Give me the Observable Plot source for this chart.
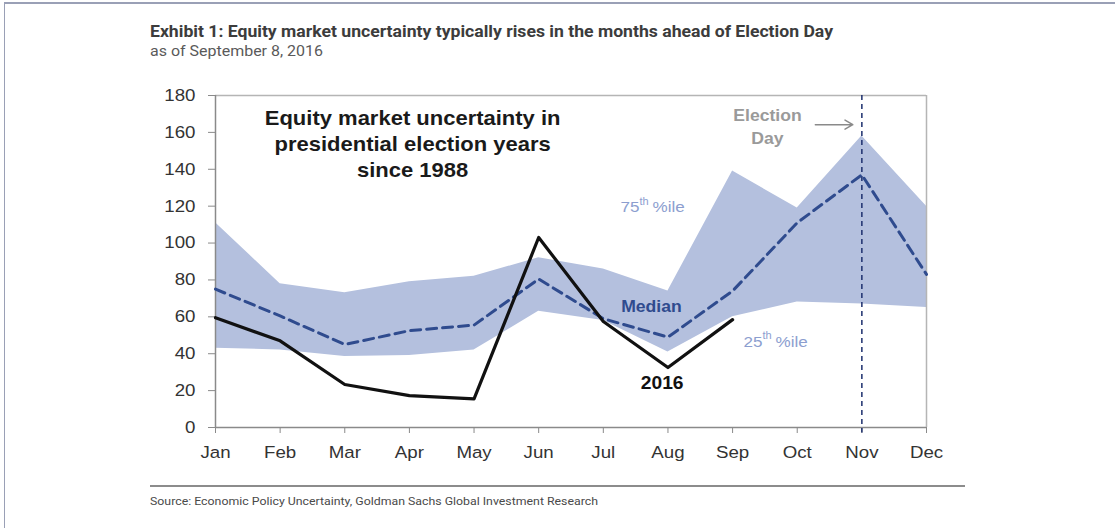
<!DOCTYPE html>
<html><head><meta charset="utf-8">
<script src="https://cdn.jsdelivr.net/npm/d3@7"></script>
<script src="https://cdn.jsdelivr.net/npm/@observablehq/plot@0.6"></script>
<style>
body{margin:0;background:#fff;width:1115px;height:528px;overflow:hidden;position:relative;font-family:"Liberation Sans",Arial,sans-serif}
#frame{position:absolute;left:4px;top:2px;right:0;bottom:0;border-top:2px solid #9aa0b6;border-left:1.5px solid #9aa0b6;pointer-events:none}
.fit{position:absolute;left:150px;white-space:nowrap;transform-origin:0 0;line-height:1;font-family:Roboto,"Liberation Sans Narrow","DejaVu Sans Condensed",sans-serif}
#title{top:23px;font-weight:bold;font-size:17px;color:#3c3c3c}
#subtitle{top:44px;font-size:14px;color:#5a5a5a}
#chart{position:absolute;left:0;top:60px}
#rule{position:absolute;left:150px;top:485px;width:815px;height:2px;background:#8c8c8c}
#source{top:495.5px;font-size:11.5px;color:#4a4a4a}
</style></head>
<body>
<div id="frame"></div>
<div id="title" class="fit" data-w="683">Exhibit 1: Equity market uncertainty typically rises in the months ahead of Election Day</div>
<div id="subtitle" class="fit" data-w="173">as of September 8, 2016</div>
<div id="chart"></div>
<div id="rule"></div>
<div id="source" class="fit" data-w="448">Source: Economic Policy Uncertainty, Goldman Sachs Global Investment Research</div>
<script>
const months = ["Jan","Feb","Mar","Apr","May","Jun","Jul","Aug","Sep","Oct","Nov","Dec"];
const p75    = [111, 78, 73, 79, 82, 92, 86, 74, 139, 119, 158, 120];
const p25    = [43, 42, 38.5, 39, 42, 63, 58, 41, 60, 68, 67, 65];
const median = [75, 60.5, 45, 52.5, 55.5, 80.5, 59, 49, 74, 111, 137, 83];
const y2016  = [59.5, 47, 23.3, 17.3, 15.5, 103, 57.5, 32.5, 58.5];
const yTicks = [0, 20, 40, 60, 80, 100, 120, 140, 160, 180];
const electionMonth = "Nov";

const idx = months.map((m, i) => i);
const rows = idx.map(i => ({i, p25: p25[i], p75: p75[i], median: median[i]}));
const rows2016 = y2016.map((v, i) => ({i, v}));
const elecI = months.indexOf(electionMonth);

// annotation anchors in data units (month index, value)
const bigNote = [{x: 3.05, y: 154.5, text: "Equity market uncertainty in\npresidential election years\nsince 1988"}];
const elecNote = [{x: 8.54, y: 164, text: "Election\nDay"}];
const elecArrow = [{x1: 9.28, x2: 9.86, y: 164.2}];
const medianNote = [{x: 6.745, y: 65.2, text: "Median"}];
const yearNote = [{x: 6.91, y: 23.9, text: "2016"}];
const pctNotes = [{x: 6.266, y: 119.3, n: "75"}, {x: 8.169, y: 46.6, n: "25"}];

const pctColor = "#8c9ecf";
const svg = Plot.plot({
  width: 1115, height: 410,
  marginLeft: 215, marginRight: 189, marginTop: 35, marginBottom: 43,
  x: {domain: [0, 11], label: null},
  y: {domain: [0, 180], label: null},
  style: {fontFamily: "'Liberation Sans', Arial, sans-serif", fontSize: "17px", background: "transparent", overflow: "visible"},
  marks: [
    Plot.areaY(rows, {x: "i", y1: "p25", y2: "p75", fill: "#b4c0de"}),
    Plot.ruleY([180], {stroke: "#b5b5b5", strokeWidth: 1.5}),
    Plot.ruleX([11], {stroke: "#b5b5b5", strokeWidth: 1.5}),
    Plot.ruleX([0], {stroke: "#8a8a8a", strokeWidth: 1.5}),
    Plot.ruleY([0], {stroke: "#8a8a8a", strokeWidth: 1.5}),
    Plot.axisY(yTicks, {tickSize: 7, tickPadding: 13, stroke: "#8a8a8a", fill: "#333", label: null}),
    Plot.axisX(idx, {tickFormat: i => months[i], tickSize: 6, tickPadding: 12, stroke: "#8a8a8a", fill: "#333", label: null}),
    Plot.ruleX([elecI], {y1: 180, y2: -3, stroke: "#1d2f6e", strokeWidth: 1.5, strokeDasharray: "5,4"}),
    Plot.line(rows, {x: "i", y: "median", stroke: "#2f4b8e", strokeWidth: 3, strokeDasharray: "10,6"}),
    Plot.line(rows2016, {x: "i", y: "v", stroke: "#111", strokeWidth: 3.2}),
    Plot.text(bigNote, {x: "x", y: "y", text: "text", fontSize: 20, fontWeight: "bold", fill: "#1a1a1a", lineHeight: 1.3}),
    Plot.text(elecNote, {x: "x", y: "y", text: "text", fontSize: 16, fontWeight: "bold", fill: "#9a9a9a", lineHeight: 1.42}),
    Plot.arrow(elecArrow, {x1: "x1", x2: "x2", y1: "y", y2: "y", stroke: "#8a8a8a", strokeWidth: 1.5, headLength: 9}),
    Plot.text(medianNote, {x: "x", y: "y", text: "text", fontSize: 16, fontWeight: "bold", fill: "#2f4b8e"}),
    Plot.text(yearNote, {x: "x", y: "y", text: "text", fontSize: 17.5, fontWeight: "bold", fill: "#111"}),
    Plot.text(pctNotes, {x: "x", y: "y", text: "n", fontSize: 15.5, fill: pctColor, textAnchor: "start"}),
    Plot.text(pctNotes, {x: "x", y: "y", text: d => "th", fontSize: 10, fill: pctColor, textAnchor: "start", dx: 19, dy: -6}),
    Plot.text(pctNotes, {x: "x", y: "y", text: d => "%ile", fontSize: 15.5, fill: pctColor, textAnchor: "start", dx: 32})
  ]
});
document.getElementById("chart").append(svg);

// the reference glyphs are slightly wide: stretch all chart text horizontally around its anchor
svg.querySelectorAll("text").forEach(t => {
  const x = +t.getAttribute("x") || 0, y = +t.getAttribute("y") || 0;
  const tr = t.getAttribute("transform") || "";
  t.setAttribute("transform", `${tr} translate(${x},${y}) scale(1.1,1) translate(${-x},${-y})`);
});

// fit HTML text blocks to the reference widths
document.querySelectorAll(".fit").forEach(el => {
  const w = el.getBoundingClientRect().width;
  const target = +el.dataset.w;
  if (w > 0) el.style.transform = `scaleX(${target / w})`;
});
</script>
</body></html>
